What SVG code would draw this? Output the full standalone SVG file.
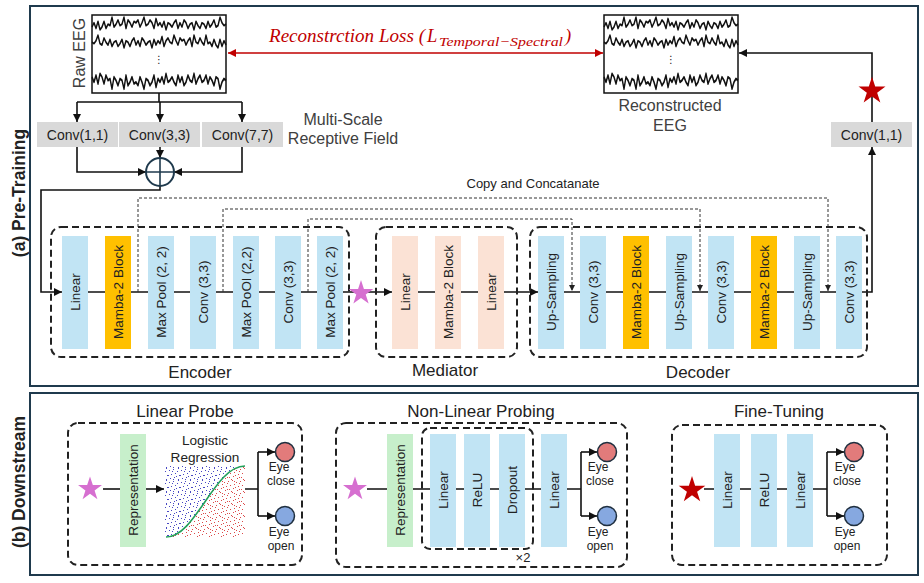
<svg xmlns="http://www.w3.org/2000/svg" xmlns:xlink="http://www.w3.org/1999/xlink" width="924" height="583" viewBox="0 0 924 583">
<style>
text{font-family:"Liberation Sans",Arial,sans-serif;fill:#222}
.frame{fill:none;stroke:#1f3a4d;stroke-width:2}
.dbox{fill:none;stroke:#222;stroke-width:2;stroke-dasharray:7 4}
.blue{fill:#c1e4f4}
.mamba{fill:#ffc000}
.peach{fill:#fbe2d5}
.green{fill:#c7efcb}
.gray{fill:#d9d9d9}
.bt{font-size:13.5px;text-anchor:middle}
.ct{font-size:14px;text-anchor:middle}
.lab{font-size:17px;text-anchor:middle}
.gt{font-size:16px;text-anchor:middle;fill:#404040}
.eye{font-size:12px;text-anchor:middle}
.ln{fill:none;stroke:#111;stroke-width:1.6}
.skip{fill:none;stroke:#333;stroke-width:1;stroke-dasharray:3 2}
.tr{fill:none;stroke:#111;stroke-width:1.4;stroke-linejoin:round}
.side{font-size:17.5px;font-weight:bold;text-anchor:middle}
.loss{font-family:"Liberation Serif",serif;font-style:italic;fill:#c00000}
</style>
<defs>
<marker id="ah" viewBox="0 0 10 10" refX="10" refY="5" markerWidth="8" markerHeight="8" markerUnits="userSpaceOnUse" orient="auto"><path d="M0,0 L10,5 L0,10 z" fill="#111"/></marker>
<marker id="ahr" viewBox="0 0 10 10" refX="10" refY="5" markerWidth="8" markerHeight="8" markerUnits="userSpaceOnUse" orient="auto-start-reverse"><path d="M0,0 L10,5 L0,10 z" fill="#c00000"/></marker>
<marker id="ahs" viewBox="0 0 10 10" refX="10" refY="5" markerWidth="6" markerHeight="6" markerUnits="userSpaceOnUse" orient="auto"><path d="M0,0 L10,5 L0,10 z" fill="#222"/></marker>
<path id="star" d="M0,-1 L0.2245,-0.309 L0.951,-0.309 L0.363,0.118 L0.588,0.809 L0,0.382 L-0.588,0.809 L-0.363,0.118 L-0.951,-0.309 L-0.2245,-0.309 Z"/>
<path id="tr" d="M0,0 l2,-3 2,4 2,-5 2,6 2,-2 2,-4 2,5 2,-3 2,1 2,-6 2,7 2,-2 2,-3 2,4 2,-1 2,-5 2,8 2,-6 2,2 2,3 2,-4 2,1 2,-2 2,5 2,-3 2,-4 2,6 2,-1 2,-3 2,2 2,4 2,-7 2,5 2,-2 2,3 2,-4 2,6 2,-5 2,1 2,2 2,-3 2,-2 2,6 2,-4 2,3 2,-5 2,2 2,4 2,-3 2,-1 2,5 2,-6 2,3 2,2 2,-4 2,1 2,3 2,-5 2,4 2,-2 2,-3 2,5 2,-1 2,-6 2,4 2,2 2,-1"/>
<g id="traces">
<use xlink:href="#tr" class="tr" transform="translate(0,27) scale(1,1.4)"/>
<use xlink:href="#tr" class="tr" transform="translate(134,45) scale(-1,1.4)"/>
<use xlink:href="#tr" class="tr" transform="translate(0,77) scale(1,-1.7)"/>
<text x="67" y="63" font-size="10" text-anchor="middle" style="font-family:'DejaVu Sans',sans-serif">⋮</text>
</g>
<pattern id="pb" width="12" height="12" patternUnits="userSpaceOnUse">
<g fill="#4848c4"><rect x="1" y="2" width="1" height="1"/><rect x="5" y="1" width="1" height="1"/><rect x="9" y="3" width="1" height="1"/><rect x="3" y="6" width="1" height="1"/><rect x="7" y="5" width="1" height="1"/><rect x="11" y="7" width="1" height="1"/><rect x="2" y="10" width="1" height="1"/><rect x="6" y="9" width="1" height="1"/><rect x="10" y="11" width="1" height="1"/><rect x="4" y="3" width="1" height="1"/><rect x="8" y="8" width="1" height="1"/><rect x="0" y="7" width="1" height="1"/><rect x="5" y="11" width="1" height="1"/><rect x="10" y="0" width="1" height="1"/></g>
</pattern>
<pattern id="pr" width="12" height="12" patternUnits="userSpaceOnUse">
<g fill="#dc4a4a"><rect x="0" y="1" width="1" height="1"/><rect x="4" y="0" width="1" height="1"/><rect x="8" y="2" width="1" height="1"/><rect x="2" y="5" width="1" height="1"/><rect x="6" y="4" width="1" height="1"/><rect x="10" y="6" width="1" height="1"/><rect x="1" y="9" width="1" height="1"/><rect x="5" y="8" width="1" height="1"/><rect x="9" y="10" width="1" height="1"/><rect x="11" y="3" width="1" height="1"/><rect x="7" y="7" width="1" height="1"/><rect x="3" y="11" width="1" height="1"/><rect x="11" y="9" width="1" height="1"/><rect x="6" y="1" width="1" height="1"/></g>
</pattern>
</defs>

<rect width="924" height="583" fill="#fff"/>

<g id="panel-a">
<rect class="frame" x="30" y="6" width="888" height="380"/>
<text class="side" transform="translate(19,193) rotate(-90)" dy="6">(a) Pre-Training</text>
</g>
<g id="panel-b">
<rect class="frame" x="30" y="393" width="888" height="182"/>
<text class="side" transform="translate(19,482) rotate(-90)" dy="6">(b) Downstream</text>
</g>

<g id="connectors">
<line x1="228" y1="53" x2="603" y2="53" stroke="#c00000" stroke-width="1.6" marker-start="url(#ahr)" marker-end="url(#ahr)"/>
<path class="ln" d="M159,93 V102 M77,102 H242"/>
<path class="ln" d="M77,102 V122" marker-end="url(#ah)"/>
<path class="ln" d="M160,102 V122" marker-end="url(#ah)"/>
<path class="ln" d="M242,102 V122" marker-end="url(#ah)"/>
<path class="ln" d="M77,147 V172 H146" marker-end="url(#ah)"/>
<path class="ln" d="M242,147 V172 H174" marker-end="url(#ah)"/>
<path class="ln" d="M160,147 V158" marker-end="url(#ah)"/>
<path class="ln" d="M160,186 V190 H41 V292 H62" marker-end="url(#ah)"/>
<path class="ln" d="M62,292 H343"/>
<path class="ln" d="M343,292 H392" marker-end="url(#ah)"/>
<path class="ln" d="M418,292 H478"/>
<path class="ln" d="M504,292 H538" marker-end="url(#ah)"/>
<path class="ln" d="M538,292 H862"/>
<path class="ln" d="M862,292 H872 V147" marker-end="url(#ah)"/>
<path class="ln" d="M872,122 V53 H739" marker-end="url(#ah)"/>
<path class="skip" d="M138,292 V198 H828 V291" marker-end="url(#ahs)"/>
<path class="skip" d="M223,292 V209 H700 V291" marker-end="url(#ahs)"/>
<path class="skip" d="M308,292 V219 H572 V291" marker-end="url(#ahs)"/>
<path class="ln" d="M103,489 H120"/>
<path class="ln" d="M146,489 H164" marker-end="url(#ah)"/>
<path class="ln" d="M245,489 H258 M258,452 V516"/>
<path class="ln" d="M258,452 H275" marker-end="url(#ah)"/>
<path class="ln" d="M258,516 H275" marker-end="url(#ah)"/>
<path class="ln" d="M367,489 H581 M581,452 V516"/>
<path class="ln" d="M581,452 H597" marker-end="url(#ah)"/>
<path class="ln" d="M581,516 H597" marker-end="url(#ah)"/>
<path class="ln" d="M704,489 H827 M827,452 V516"/>
<path class="ln" d="M827,452 H844" marker-end="url(#ah)"/>
<path class="ln" d="M827,516 H844" marker-end="url(#ah)"/>
</g>

<g id="loss-label">
<text class="loss" x="269" y="42" font-size="18.5" textLength="156" lengthAdjust="spacingAndGlyphs">Reconstrction Loss (</text>
<text class="loss" x="427" y="42" font-size="18.5">L</text>
<text class="loss" x="439" y="46" font-size="13" textLength="124" lengthAdjust="spacingAndGlyphs">Temporal−Spectral</text>
<text class="loss" x="565" y="42" font-size="18.5">)</text>
</g>

<g id="raw-eeg">
<rect x="92" y="15" width="134" height="78" fill="#fff" stroke="#111" stroke-width="1.5"/>
<use xlink:href="#traces" transform="translate(92,0)"/>
<text class="gt" transform="translate(79,53) rotate(-90)" dy="6">Raw EEG</text>
</g>
<g id="recon-eeg">
<rect x="604" y="15" width="134" height="78" fill="#fff" stroke="#111" stroke-width="1.5"/>
<use xlink:href="#traces" transform="translate(604,0)"/>
<text class="gt" x="670" y="111">Reconstructed</text>
<text class="gt" x="670" y="131">EEG</text>
</g>

<g id="conv11"><rect class="gray" x="37" y="122" width="81" height="25"/><text class="ct" x="77.5" y="139.5">Conv(1,1)</text></g>
<g id="conv33"><rect class="gray" x="119" y="122" width="81" height="25"/><text class="ct" x="159.5" y="139.5">Conv(3,3)</text></g>
<g id="conv77"><rect class="gray" x="202" y="122" width="81" height="25"/><text class="ct" x="242.5" y="139.5">Conv(7,7)</text></g>
<g id="msrf"><text class="gt" x="343" y="125">Multi-Scale</text><text class="gt" x="343" y="144">Receptive Field</text></g>
<g id="sum"><circle cx="160" cy="172" r="14" fill="#fff" stroke="#1f3a4d" stroke-width="2"/><path d="M146,172 H174 M160,158 V186" stroke="#1f3a4d" stroke-width="1.6"/></g>
<g id="conv11-out"><rect class="gray" x="831" y="122" width="81" height="25"/><text class="ct" x="871.5" y="139.5">Conv(1,1)</text></g>
<use id="star-red-top" xlink:href="#star" fill="#c00000" transform="translate(872,91) scale(14.2)"/>
<text x="533" y="188" font-size="13" text-anchor="middle">Copy and Concatanate</text>

<g id="encoder">
<rect class="dbox" x="51" y="227" width="298" height="130" rx="10"/>
<rect class="blue" x="62" y="236" width="26" height="113"/><text class="bt" transform="translate(75,292) rotate(-90)" dy="5">Linear</text>
<rect class="mamba" x="105" y="236" width="26" height="113"/><text class="bt" transform="translate(118,292) rotate(-90)" dy="5">Mamba-2 Block</text>
<rect class="blue" x="148" y="236" width="26" height="113"/><text class="bt" transform="translate(161,292) rotate(-90)" dy="5">Max Pool (2, 2)</text>
<rect class="blue" x="190" y="236" width="26" height="113"/><text class="bt" transform="translate(203,292) rotate(-90)" dy="5">Conv (3,3)</text>
<rect class="blue" x="233" y="236" width="26" height="113"/><text class="bt" transform="translate(246,292) rotate(-90)" dy="5">Max PoOl (2,2)</text>
<rect class="blue" x="275" y="236" width="26" height="113"/><text class="bt" transform="translate(288,292) rotate(-90)" dy="5">Conv (3,3)</text>
<rect class="blue" x="317" y="236" width="26" height="113"/><text class="bt" transform="translate(330,292) rotate(-90)" dy="5">Max Pool (2, 2)</text>
<text class="lab" x="200" y="378">Encoder</text>
</g>
<use id="star-pink-top" xlink:href="#star" fill="#d66fd0" transform="translate(361,293) scale(13)"/>

<g id="mediator">
<rect class="dbox" x="376" y="227" width="141" height="130" rx="10"/>
<rect class="peach" x="392" y="236" width="26" height="113"/><text class="bt" transform="translate(405,292) rotate(-90)" dy="5">Linear</text>
<rect class="peach" x="435" y="236" width="26" height="113"/><text class="bt" transform="translate(448,292) rotate(-90)" dy="5">Mamba-2 Block</text>
<rect class="peach" x="478" y="236" width="26" height="113"/><text class="bt" transform="translate(491,292) rotate(-90)" dy="5">Linear</text>
<text class="lab" x="445" y="376">Mediator</text>
</g>

<g id="decoder">
<rect class="dbox" x="530" y="227" width="337" height="130" rx="10"/>
<rect class="blue" x="538" y="236" width="26" height="113"/><text class="bt" transform="translate(551,292) rotate(-90)" dy="5">Up-Sampling</text>
<rect class="blue" x="580" y="236" width="26" height="113"/><text class="bt" transform="translate(593,292) rotate(-90)" dy="5">Conv (3,3)</text>
<rect class="mamba" x="623" y="236" width="26" height="113"/><text class="bt" transform="translate(636,292) rotate(-90)" dy="5">Mamba-2 Block</text>
<rect class="blue" x="666" y="236" width="26" height="113"/><text class="bt" transform="translate(679,292) rotate(-90)" dy="5">Up-Sampling</text>
<rect class="blue" x="708" y="236" width="26" height="113"/><text class="bt" transform="translate(721,292) rotate(-90)" dy="5">Conv (3,3)</text>
<rect class="mamba" x="751" y="236" width="26" height="113"/><text class="bt" transform="translate(764,292) rotate(-90)" dy="5">Mamba-2 Block</text>
<rect class="blue" x="794" y="236" width="26" height="113"/><text class="bt" transform="translate(807,292) rotate(-90)" dy="5">Up-Sampling</text>
<rect class="blue" x="836" y="236" width="26" height="113"/><text class="bt" transform="translate(849,292) rotate(-90)" dy="5">Conv (3,3)</text>
<text class="lab" x="698" y="378">Decoder</text>
</g>

<g id="linear-probe">
<text class="lab" x="185" y="417">Linear Probe</text>
<rect class="dbox" x="68" y="423" width="234" height="142" rx="10"/>
<use xlink:href="#star" fill="#d66fd0" transform="translate(90,489) scale(12.6)"/>
<rect class="green" x="120" y="434" width="26" height="113"/><text class="bt" transform="translate(133,490) rotate(-90)" dy="5">Representation</text>
<text x="205" y="445" font-size="13.6" text-anchor="middle">Logistic</text>
<text x="205" y="462" font-size="13.6" text-anchor="middle">Regression</text>
<rect x="165" y="466" width="80" height="71" fill="#fff"/>
<path d="M165,466 H245 C214,466 196,537 166,537 H165 Z" fill="url(#pb)"/>
<path d="M245,466 V537 H166 C196,537 214,466 245,466 Z" fill="url(#pr)"/>
<path d="M166,537 C196,537 214,466 245,466" fill="none" stroke="#22a05a" stroke-width="1.6"/>
<circle cx="285" cy="452" r="9.5" fill="#e27b7b" stroke="#1f2f3f" stroke-width="1.5"/>
<circle cx="285" cy="516" r="9.5" fill="#86a8e0" stroke="#1f2f3f" stroke-width="1.5"/>
<text class="eye" x="279" y="471">Eye</text><text class="eye" x="281" y="485">close</text>
<text class="eye" x="279" y="536">Eye</text><text class="eye" x="281" y="550">open</text>
</g>

<g id="non-linear-probing">
<text class="lab" x="481" y="417">Non-Linear Probing</text>
<rect class="dbox" x="336" y="423" width="291" height="144" rx="10"/>
<use xlink:href="#star" fill="#d66fd0" transform="translate(355,489) scale(12.6)"/>
<rect class="green" x="387" y="434" width="26" height="113"/><text class="bt" transform="translate(400,490) rotate(-90)" dy="5">Representation</text>
<rect class="blue" x="430" y="434" width="26" height="113"/><text class="bt" transform="translate(443,490) rotate(-90)" dy="5">Linear</text>
<rect class="blue" x="464" y="434" width="26" height="113"/><text class="bt" transform="translate(477,490) rotate(-90)" dy="5">ReLU</text>
<rect class="blue" x="499" y="434" width="26" height="113"/><text class="bt" transform="translate(512,490) rotate(-90)" dy="5">Dropout</text>
<rect class="dbox" x="422" y="428" width="111" height="121" rx="8"/>
<rect class="blue" x="541" y="434" width="26" height="113"/><text class="bt" transform="translate(554,490) rotate(-90)" dy="5">Linear</text>
<text x="523" y="562" font-size="13" text-anchor="middle">×2</text>
<circle cx="607" cy="452" r="9.5" fill="#e27b7b" stroke="#1f2f3f" stroke-width="1.5"/>
<circle cx="607" cy="516" r="9.5" fill="#86a8e0" stroke="#1f2f3f" stroke-width="1.5"/>
<text class="eye" x="598" y="471">Eye</text><text class="eye" x="600" y="485">close</text>
<text class="eye" x="598" y="536">Eye</text><text class="eye" x="600" y="550">open</text>
</g>

<g id="fine-tuning">
<text class="lab" x="779" y="417">Fine-Tuning</text>
<rect class="dbox" x="672" y="425" width="215" height="140" rx="10"/>
<use xlink:href="#star" fill="#c00000" transform="translate(692,490) scale(14)"/>
<rect class="blue" x="714" y="434" width="26" height="113"/><text class="bt" transform="translate(727,490) rotate(-90)" dy="5">Linear</text>
<rect class="blue" x="751" y="434" width="26" height="113"/><text class="bt" transform="translate(764,490) rotate(-90)" dy="5">ReLU</text>
<rect class="blue" x="787" y="434" width="26" height="113"/><text class="bt" transform="translate(800,490) rotate(-90)" dy="5">Linear</text>
<circle cx="854" cy="452" r="9.5" fill="#e27b7b" stroke="#1f2f3f" stroke-width="1.5"/>
<circle cx="854" cy="516" r="9.5" fill="#86a8e0" stroke="#1f2f3f" stroke-width="1.5"/>
<text class="eye" x="845" y="471">Eye</text><text class="eye" x="847" y="485">close</text>
<text class="eye" x="845" y="536">Eye</text><text class="eye" x="847" y="550">open</text>
</g>
</svg>
